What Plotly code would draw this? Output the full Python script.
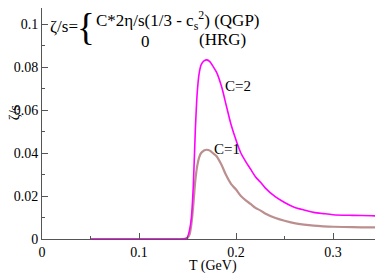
import plotly.graph_objects as go

# Temperature grid (GeV)
T = [0.05, 0.10, 0.14, 0.148, 0.150, 0.152, 0.154, 0.156, 0.158, 0.160, 0.162,
     0.164, 0.167, 0.170, 0.173, 0.176, 0.180, 0.185, 0.19, 0.195, 0.20, 0.205,
     0.21, 0.215, 0.22, 0.225, 0.23, 0.24, 0.25, 0.26, 0.27, 0.28, 0.29, 0.30,
     0.32, 0.34, 0.35]

# zeta/s for C=2
zeta_c2 = [0, 0, 0, 0.0002, 0.001, 0.004, 0.010, 0.025, 0.050, 0.068, 0.077,
           0.081, 0.0828, 0.0833, 0.0825, 0.0805, 0.0775, 0.071, 0.062, 0.053,
           0.046, 0.040, 0.036, 0.0325, 0.029, 0.0265, 0.0238, 0.0198, 0.0170,
           0.0148, 0.0135, 0.0124, 0.0118, 0.0113, 0.0110, 0.0108, 0.0107]

# zeta/s for C=1
zeta_c1 = [0, 0, 0, 0.0001, 0.0005, 0.002, 0.007, 0.016, 0.027, 0.034, 0.038,
           0.040, 0.0412, 0.0415, 0.0411, 0.0400, 0.0385, 0.0345, 0.0295, 0.0255,
           0.0230, 0.0200, 0.0180, 0.0163, 0.0145, 0.0133, 0.0119, 0.0099, 0.0085,
           0.0074, 0.0067, 0.0062, 0.0059, 0.0057, 0.0055, 0.0054, 0.0053]

x_ticks = [0, 0.1, 0.2, 0.3]
x_tick_labels = ["0", "0.1", "0.2", "0.3"]
y_ticks = [0, 0.02, 0.04, 0.06, 0.08, 0.1]
y_tick_labels = ["0", "0.02", "0.04", "0.06", "0.08", "0.1"]

FONT = "Liberation Serif, Times New Roman, Times, serif"
AXC = "#555555"

fig = go.Figure()
fig.add_trace(go.Scatter(x=T, y=zeta_c1, mode="lines",
                         line=dict(color="#bc8f8f", width=2.2, shape="spline", smoothing=0.8),
                         showlegend=False))
fig.add_trace(go.Scatter(x=T, y=zeta_c2, mode="lines",
                         line=dict(color="#ff00ff", width=1.6, shape="spline", smoothing=0.8),
                         showlegend=False))
# empty helper trace so the top tick axis is drawn
fig.add_trace(go.Scatter(x=[], y=[], xaxis="x2", showlegend=False, hoverinfo="skip"))

axis_common = dict(
    showline=True, linecolor=AXC, linewidth=1,
    ticks="inside", ticklen=6, tickcolor=AXC, tickwidth=1,
    showgrid=False, zeroline=False, automargin=False,
    tickfont=dict(family=FONT, size=14, color="black"),
)

X_MAX = 0.3515
Y_MAX = 0.10744

fig.update_layout(
    xaxis=dict(range=[0, X_MAX], tickvals=x_ticks, ticktext=x_tick_labels, mirror=False,
               minor=dict(ticks="inside", ticklen=3, tickvals=[0.05, 0.15, 0.25], tickcolor=AXC),
               **axis_common),
    yaxis=dict(range=[0, Y_MAX], tickvals=y_ticks, ticktext=y_tick_labels, mirror="ticks",
               minor=dict(ticks="inside", ticklen=3, dtick=0.01, tick0=0, tickcolor=AXC),
               **axis_common),
    xaxis2=dict(overlaying="x", side="top", range=[0, X_MAX], showline=False,
                showgrid=False, zeroline=False, automargin=False,
                ticks="outside", ticklen=7, tickcolor=AXC, tickwidth=1,
                tickvals=x_ticks, showticklabels=False,
                minor=dict(ticks="outside", ticklen=5, tickvals=[0.05, 0.15, 0.25], tickcolor=AXC)),
)

ann = []
# Axis titles
ann.append(dict(text="T (GeV)", x=0.5015, y=-0.117, xref="paper", yref="paper",
                showarrow=False, font=dict(family=FONT, size=14, color="black"),
                xanchor="center", yanchor="middle"))
ann.append(dict(text="ζ/s", x=-0.08, y=0.548, xref="paper", yref="paper",
                showarrow=False, textangle=-90, font=dict(family=FONT, size=14, color="black"),
                xanchor="center", yanchor="middle", borderpad=0))
# Formula
ann.append(dict(text="ζ/s=", x=0.0075, y=0.0990, xref="x", yref="y", showarrow=False,
                font=dict(family=FONT, size=17, color="black"), xanchor="left", yanchor="middle",
                borderpad=0))
ann.append(dict(text="{", x=0.0455, y=0.0985, xref="x", yref="y", showarrow=False,
                font=dict(family=FONT, size=37, color="black"), xanchor="center", yanchor="middle",
                borderpad=0))
ann.append(dict(text="C*2η/s(1/3 - c<sub>s</sub><sup>2</sup>) (QGP)", x=0.0535, y=0.1015,
                xref="x", yref="y", showarrow=False,
                font=dict(family=FONT, size=17, color="black"), xanchor="left", yanchor="middle"))
ann.append(dict(text="0", x=0.1065, y=0.0917, xref="x", yref="y", showarrow=False,
                font=dict(family=FONT, size=17, color="black"), xanchor="center", yanchor="middle"))
ann.append(dict(text="(HRG)", x=0.1856, y=0.0927, xref="x", yref="y", showarrow=False,
                font=dict(family=FONT, size=17, color="black"), xanchor="center", yanchor="middle"))
# Curve labels
ann.append(dict(text="C=2", x=0.1865, y=0.0712, xref="x", yref="y", showarrow=False,
                font=dict(family=FONT, size=15, color="black"), xanchor="left", yanchor="middle"))
ann.append(dict(text="C=1", x=0.175, y=0.0418, xref="x", yref="y", showarrow=False,
                font=dict(family=FONT, size=15, color="black"), xanchor="left", yanchor="middle"))

# The page body adds an 8px offset; margins compensate so the plot area
# lands at the same screen position as in the reference.
fig.update_layout(
    width=383, height=274,
    margin=dict(l=34, r=8, t=0, b=43),
    paper_bgcolor="white", plot_bgcolor="white",
    font=dict(family=FONT),
    annotations=ann,
)

fig.write_html("out.html")
